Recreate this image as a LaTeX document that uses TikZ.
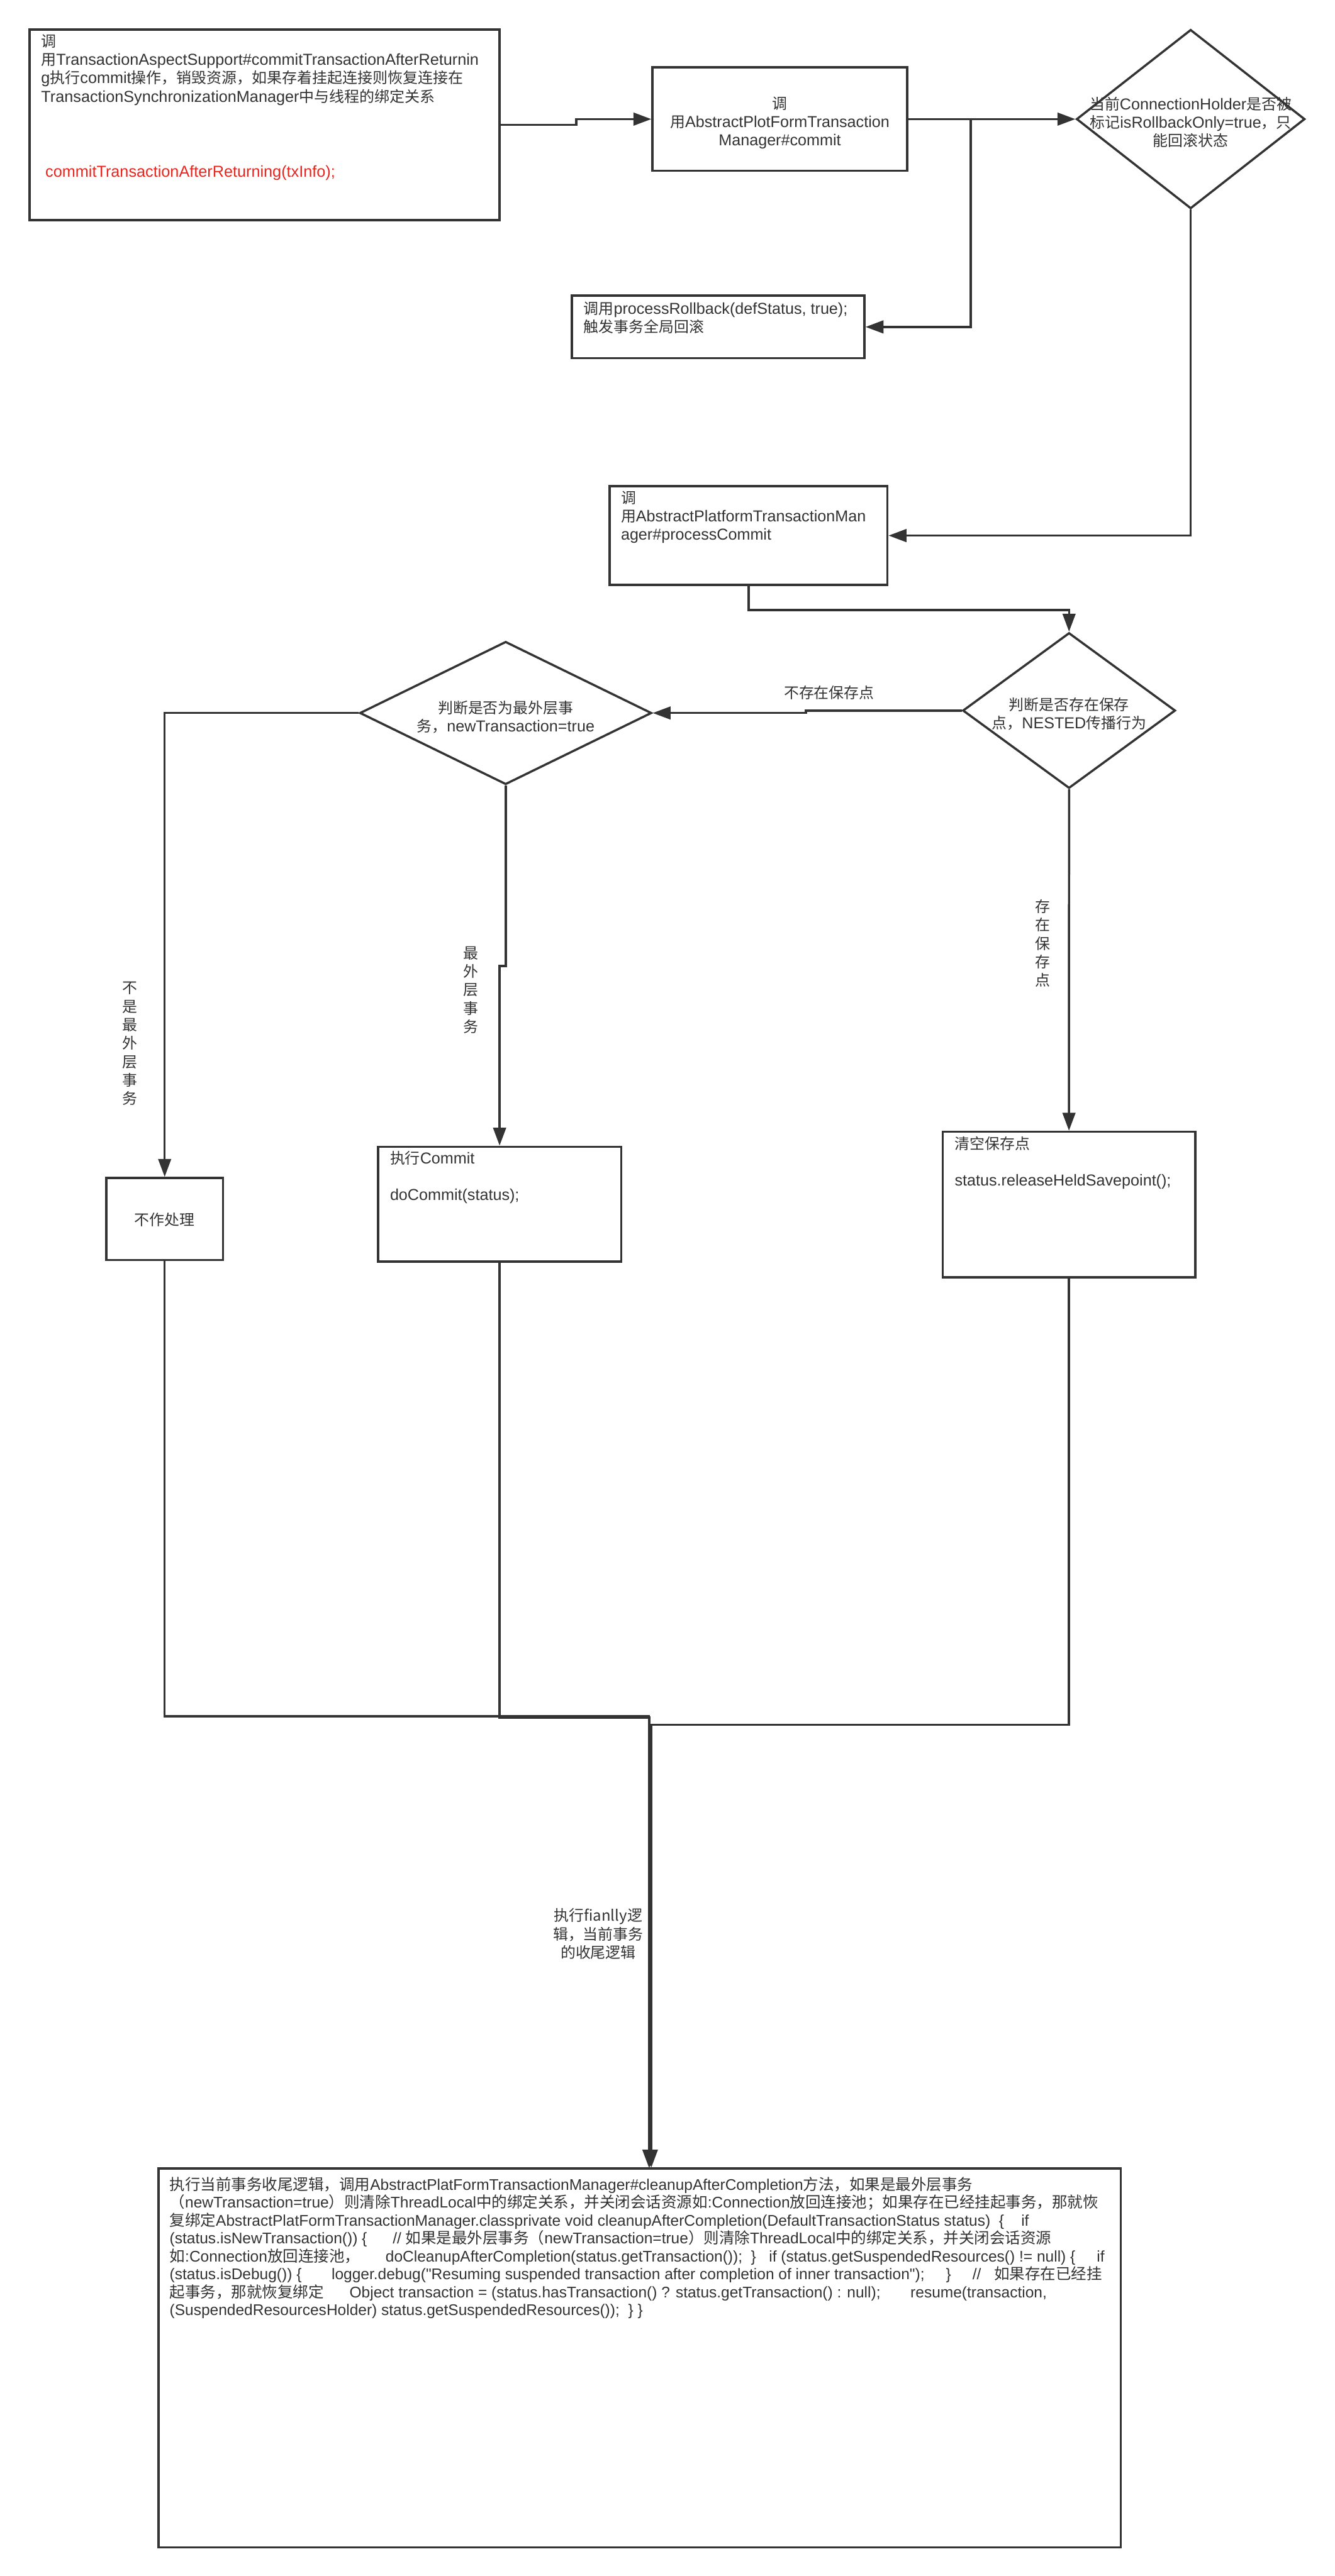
\documentclass[tikz,border=0pt]{standalone}
\usepackage{fontspec}
\setmainfont{Liberation Sans}[Ligatures=TeXOff]
\newfontfamily\latinfont{Liberation Sans}[Ligatures=TeXOff]
\newfontfamily\cjkA{Noto Sans CJK SC}[Scale=0.95]
\newfontfamily\cjkB{Noto Sans CJK SC}
\let\cjkfont\cjkA
\usetikzlibrary{arrows.meta,shapes.geometric}
\definecolor{ink}{HTML}{333333}
\definecolor{redtxt}{RGB}{232,38,30}
\XeTeXinterchartokenstate=1
\newXeTeXintercharclass\mycjkclass
\newcount\mycnt
\mycnt="2E80
\loop\XeTeXcharclass\mycnt=\mycjkclass\relax\ifnum\mycnt<"9FFF \advance\mycnt by 1 \repeat
\mycnt="FF00
\loop\XeTeXcharclass\mycnt=\mycjkclass\relax\ifnum\mycnt<"FFEF \advance\mycnt by 1 \repeat
\XeTeXinterchartoks 0 \mycjkclass = {\cjkfont}
\XeTeXinterchartoks 4095 \mycjkclass = {\cjkfont}
\XeTeXinterchartoks \mycjkclass 0 = {\latinfont}
\XeTeXinterchartoks \mycjkclass 4095 = {\latinfont}
\newcommand\sk{\rule[-3.6pt]{0pt}{16.1pt}}
\newcommand\Lcol[1]{\vbox{\lineskiplimit=-100pt\relax\halign{##\hfil\cr#1\crcr}}}
\newcommand\Ccol[1]{\vbox{\lineskiplimit=-100pt\relax\halign{\hfil##\hfil\cr#1\crcr}}}
\begin{document}
\begin{tikzpicture}[x=0.05cm,y=-0.05cm,
  box/.style={draw=ink,line width=1.9pt,fill=white,rectangle,inner sep=0pt},
  dia/.style={draw=ink,line width=1.9pt,fill=white,diamond,inner sep=0pt},
  edge/.style={draw=ink,line width=1.9pt,-{Triangle[length=15.5pt,width=11pt]}},
  txt/.style={inner sep=0pt,text=ink,font=\fontsize{13.7}{15.8}\selectfont},
  txtA/.style={inner sep=0pt,text=ink,font=\fontsize{13.75}{15.9}\selectfont},
  txtB/.style={inner sep=0pt,text=ink,font=\fontsize{13.35}{15.5}\selectfont},
  lbl/.style={inner sep=0pt,text=ink,font=\cjkfont\fontsize{13.7}{16}\selectfont}]
\fill[white] (0,0) rectangle (812,1568);
\useasboundingbox (0,0) rectangle (812,1568);

% shapes
\node[box,minimum width=14.3cm,minimum height=5.8cm] (b1) at (161,76) {};
\node[box,minimum width=7.75cm,minimum height=3.15cm] (b2) at (474.5,72.5) {};
\node[dia,minimum width=6.95cm,minimum height=5.45cm] (d1) at (724.5,72.5) {};
\node[box,minimum width=8.9cm,minimum height=1.9cm] (rb) at (437,199) {};
\node[box,minimum width=8.45cm,minimum height=3cm] (b3) at (455.5,326) {};
\node[dia,minimum width=6.47cm,minimum height=4.735cm] (d2) at (650.5,432.5) {};
\node[dia,minimum width=8.88cm,minimum height=4.35cm] (d3) at (307.7,434) {};
\node[box,minimum width=3.55cm,minimum height=2.5cm] (b4) at (100.2,742) {};
\node[box,minimum width=7.4cm,minimum height=3.5cm] (b5) at (304,733) {};
\node[box,minimum width=7.685cm,minimum height=4.43cm] (b6) at (650.45,733.2) {};
\node[box,minimum width=29.275cm,minimum height=11.525cm] (bb) at (389.25,1435.25) {};

% connectors
\draw[edge] (b1.east) -- ++(46,0) |- (b2.west);
\draw[edge] (b2.east) -- (d1.west);
\draw[edge] (b2.east) -- ++(38,0) |- (rb.east);
\draw[edge] (d1.south) |- (b3.east);
\draw[edge] (b3.south) -- ++(0,14.6) -| (d2.north);
\draw[edge] (d2.west) -- ++(-94.8,0) |- (d3.east);
\draw[edge] (d3.west) -| (b4.north);
\draw[edge] (d3.south) -- ++(0,109.8) -| (b5.north);
\draw[edge] (d2.south) -- (b6.north);
\draw[edge] (b4.south) -- ++(0,277) -| ([xshift=14.95cm]bb.north west);
\draw[edge] (b5.south) -- ++(0,276.7) -| ([xshift=14.975cm]bb.north west);
\draw[edge] (b6.south) -- ++(0,271.7) -| ([xshift=15.025cm]bb.north west);

% texts
\node[txtA,anchor=north west] (b1t) at (24.9,19.6) {\Lcol{\sk 调\cr 用TransactionAspectSupport\#commitTransactionAfterReturnin\cr g执行commit操作，销毁资源，如果存着挂起连接则恢复连接在\cr TransactionSynchronizationManager中与线程的绑定关系}};
\node[txtA,anchor=base west,text=redtxt] (b1r) at (27.5,107.8) {commitTransactionAfterReturning(txInfo);};
\node[txt] (b2t) at (474.5,74.3) {\Ccol{\sk 调\cr 用AbstractPlotFormTransaction\cr\sk Manager\#commit}};
\node[txt] (d1t) at (724.5,74.6) {\Ccol{\sk 当前ConnectionHolder是否被\cr 标记isRollbackOnly=true，只\cr\sk 能回滚状态}};
\node[txt,anchor=north west] (rbt) at (355,182.1) {\Lcol{\sk 调用processRollback(defStatus, true);\cr 触发事务全局回滚}};
\node[txt,anchor=north west] (b3t) at (377.7,297.6) {\Lcol{\sk 调\cr 用AbstractPlatformTransactionMan\cr ager\#processCommit}};
\node[txt] (d2t) at (650.5,434.7) {\Ccol{\sk 判断是否存在保存\cr\sk 点，NESTED传播行为}};
\node[txt,anchor=base] (l1) at (504.5,425) {不存在保存点};
\node[txt] (d3t) at (307.7,436.6) {\Ccol{\sk 判断是否为最外层事\cr\sk 务，newTransaction=true}};
\node[txt] (b4t) at (100.2,742.5) {不作处理};
\node[lbl] (l2) at (79.2,635.3) {\Ccol{不\cr 是\cr 最\cr 外\cr 层\cr 事\cr 务}};
\node[lbl] (l3) at (286.7,602.6) {\Ccol{最\cr 外\cr 层\cr 事\cr 务}};
\node[lbl] (l4) at (634.4,574.2) {\Ccol{存\cr 在\cr 保\cr 存\cr 点}};
\node[txt,anchor=north west] (b5t) at (237.2,699.4) {\Lcol{\sk 执行Commit\cr\cr doCommit(status);}};
\node[txt,anchor=north west] (b6t) at (580.8,690.6) {\Lcol{\sk 清空保存点\cr\cr status.releaseHeldSavepoint();}};
\node[lbl] (l5) at (364,1177.2) {\XeTeXinterchartokenstate=0\relax\Ccol{执行fianlly逻\cr 辑，当前事务\cr 的收尾逻辑}};
\node[txtB,anchor=north west] (bbt) at (103.1,1324.2) {\let\cjkfont\cjkB\Lcol{\sk 执行当前事务收尾逻辑，调用AbstractPlatFormTransactionManager\#cleanupAfterCompletion方法，如果是最外层事务\cr
（newTransaction=true）则清除ThreadLocal中的绑定关系，并关闭会话资源如:Connection放回连接池；如果存在已经挂起事务，那就恢\cr
复绑定AbstractPlatFormTransactionManager.classprivate void cleanupAfterCompletion(DefaultTransactionStatus status)~~\{~~~~if\cr
(status.isNewTransaction()) \{~~~~~~// 如果是最外层事务（newTransaction=true）则清除ThreadLocal中的绑定关系，并关闭会话资源\cr
如:Connection放回连接池，~~~~~~doCleanupAfterCompletion(status.getTransaction());~~\}~~~if (status.getSuspendedResources() != null)~\{~~~~~if\cr
(status.isDebug()) \{~~~~~~~logger.debug("Resuming suspended transaction after completion of inner transaction");~~~~~\}~~~~~//~~~如果存在已经挂\cr
起事务，那就恢复绑定~~~~~~Object transaction = (status.hasTransaction() ? status.getTransaction() : null);~~~~~~~resume(transaction,\cr
(SuspendedResourcesHolder) status.getSuspendedResources());~~\} \}}};
\end{tikzpicture}
\end{document}
